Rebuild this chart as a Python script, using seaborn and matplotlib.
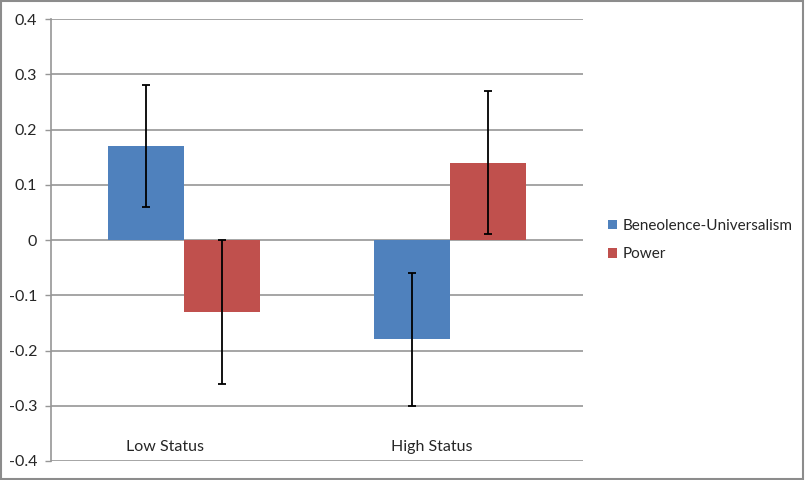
import numpy as np
import pandas as pd
import matplotlib
matplotlib.use("Agg")
import matplotlib.pyplot as plt
import seaborn as sns
from matplotlib.patches import Rectangle

# chart values
categories = ["Low Status", "High Status"]
series = ["Beneolence-Universalism", "Power"]
bu_values = [0.17, -0.18]
power_values = [-0.13, 0.14]
bu_err = [0.11, 0.12]
power_err = [0.13, 0.13]
ytick_values = [0.4, 0.3, 0.2, 0.1, 0, -0.1, -0.2, -0.3, -0.4]
ytick_labels = ["0.4", "0.3", "0.2", "0.1", "0", "-0.1", "-0.2", "-0.3", "-0.4"]

df = pd.DataFrame({
    "Status": categories * 2,
    "Series": [series[0]] * 2 + [series[1]] * 2,
    "Value": bu_values + power_values,
    "Err": bu_err + power_err,
})

sns.set_style("white")
plt.rcParams["font.family"] = ["Lato", "DejaVu Sans"]

fig = plt.figure(figsize=(8.05, 4.8), dpi=100)
ax = fig.add_axes([51 / 805, 19 / 480, 532 / 805, 442 / 480])

palette = {series[0]: "#4F81BD", series[1]: "#C0504D"}
sns.barplot(data=df, x="Status", y="Value", hue="Series", order=categories,
            hue_order=series, palette=palette, width=0.571, saturation=1,
            errorbar=None, linewidth=0, ax=ax, zorder=2)

# error bars on each bar (patches are drawn hue by hue, category by category)
bars = [p for p in ax.patches if p.get_width() > 0]
for s_i, s in enumerate(series):
    sub = df[df["Series"] == s].set_index("Status").loc[categories]
    for c_i in range(len(categories)):
        p = bars[s_i * len(categories) + c_i]
        xc = p.get_x() + p.get_width() / 2
        ax.errorbar(xc, sub["Value"].iloc[c_i], yerr=sub["Err"].iloc[c_i],
                    fmt="none", ecolor="black", elinewidth=1.3,
                    capsize=2.8, capthick=1.3, zorder=3)

ax.set_ylim(-0.4, 0.4)
ax.set_xlim(-0.5, 1.5)
ax.set_yticks(ytick_values)
ax.set_yticklabels(ytick_labels, fontsize=11.5)
ax.yaxis.grid(True, color="#969696", linewidth=1.2, zorder=0)
ax.set_axisbelow(True)
ax.tick_params(axis="y", left=True, length=4, width=1, color="#969696", pad=6)
ax.set_xticks([])
ax.set_xlabel("")
ax.set_ylabel("")
for side in ["top", "right", "bottom"]:
    ax.spines[side].set_visible(False)
ax.spines["left"].set_color("#969696")
ax.spines["left"].set_linewidth(1.2)

# category labels sit just above the bottom gridline
for i, c in enumerate(categories):
    ax.text(i - 0.07, -0.387, c, ha="center", va="bottom", fontsize=11.5)

leg = ax.legend(loc="center left", bbox_to_anchor=(1.036, 0.5), frameon=False,
                borderaxespad=0, fontsize=11, handlelength=0.6, handleheight=0.6,
                handletextpad=0.35, labelspacing=0.95)

fig.patches.append(Rectangle((0.001, 0.002), 0.997, 0.995, transform=fig.transFigure,
                             fill=False, edgecolor="#8c8c8c", linewidth=1.5))

fig.savefig("out.png", dpi=100)
